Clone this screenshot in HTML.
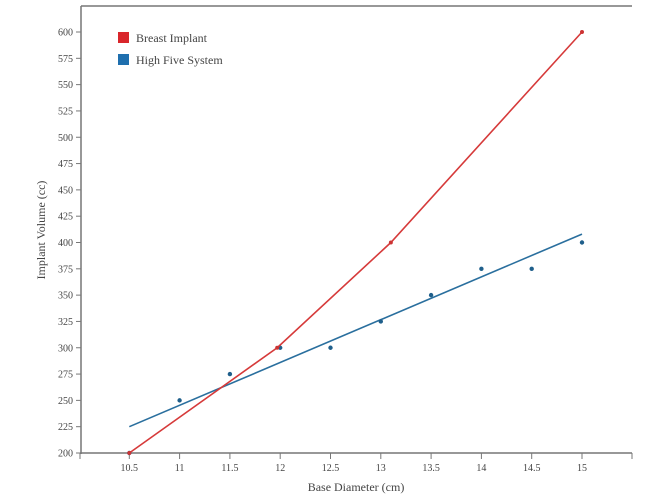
<!DOCTYPE html>
<html><head><meta charset="utf-8"><style>
body{margin:0;background:#fff;font-family:"Liberation Serif",serif;}
svg text{font-family:"Liberation Serif",serif;fill:#444;}
</style></head><body>
<svg id="c" width="669" height="496"></svg>
<script>
const xTicks=[10.5,11,11.5,12,12.5,13,13.5,14,14.5,15];
const yTicks=[200,225,250,275,300,325,350,375,400,425,450,475,500,525,550,575,600];
const implantX=[10.5,11.97,13.1,15];
const implantY=[200,300,400,600];
const highX=[10.5,11,11.5,12,12.5,13,13.5,14,14.5,15];
const highY=[200,250,275,300,300,325,350,375,375,400];
const fitX=[10.5,15];
const fitY=[225,408];
const NS="http://www.w3.org/2000/svg";
const svg=document.getElementById('c');
const X=v=>79+(v-10)*100.6;
const Y=v=>453-(v-200)*1.0525;
function el(t,a,p){const e=document.createElementNS(NS,t);for(const k in a)e.setAttribute(k,a[k]);(p||svg).appendChild(e);return e;}
const ax=el('g',{});


el('line',{x1:81,y1:6,x2:632,y2:6,stroke:'#777','stroke-width':1.5},ax);
el('line',{x1:81,y1:6,x2:81,y2:454,stroke:'#777','stroke-width':1.5},ax);
el('line',{x1:80,y1:453,x2:632,y2:453,stroke:'#777','stroke-width':1.5},ax);
el('line',{x1:80,y1:453,x2:80,y2:459,stroke:'#777'},ax);
el('line',{x1:632,y1:453,x2:632,y2:459,stroke:'#777'},ax);
xTicks.forEach(v=>{
  el('line',{x1:X(v),y1:453,x2:X(v),y2:459,stroke:'#777'},ax);
  const t=el('text',{x:X(v),y:471,'text-anchor':'middle','font-size':10},ax);t.textContent=v;
  
  
});
yTicks.forEach(v=>{
  el('line',{x1:76,y1:Y(v),x2:81,y2:Y(v),stroke:'#777'},ax);
  const t=el('text',{x:73,y:Y(v)+3.5,'text-anchor':'end','font-size':10},ax);t.textContent=v;
  
  
});
const xt=el('text',{x:356,y:491,'text-anchor':'middle','font-size':12});xt.textContent='Base Diameter (cm)';


const yt=el('text',{x:0,y:0,'text-anchor':'middle','font-size':12,transform:'translate(45,230) rotate(-90)'});yt.textContent='Implant Volume (cc)';


// blue fit
const fl=el('line',{x1:X(fitX[0]),y1:Y(fitY[0]),x2:X(fitX[1]),y2:Y(fitY[1]),stroke:'#2a6f9e','stroke-width':1.6});


highX.forEach((v,i)=>{const c=el('circle',{cx:X(v),cy:Y(highY[i]),r:2.2,fill:'#1f5f8b'});

});
const pl=el('polyline',{points:implantX.map((v,i)=>X(v)+','+Y(implantY[i])).join(' '),fill:'none',stroke:'#d63a3a','stroke-width':1.6});


implantX.forEach((v,i)=>{const c=el('circle',{cx:X(v),cy:Y(implantY[i]),r:2,fill:'#c33'});

});
const lg=el('g',{});


[['Breast Implant','#d9262b',38],['High Five System','#1f6fae',60]].forEach(d=>{
  el('rect',{x:118,y:d[2]-6,width:11,height:11,fill:d[1]},lg);
  const t=el('text',{x:136,y:d[2]+4,'font-size':12},lg);t.textContent=d[0];
  
  
});
</script>
</body></html>
